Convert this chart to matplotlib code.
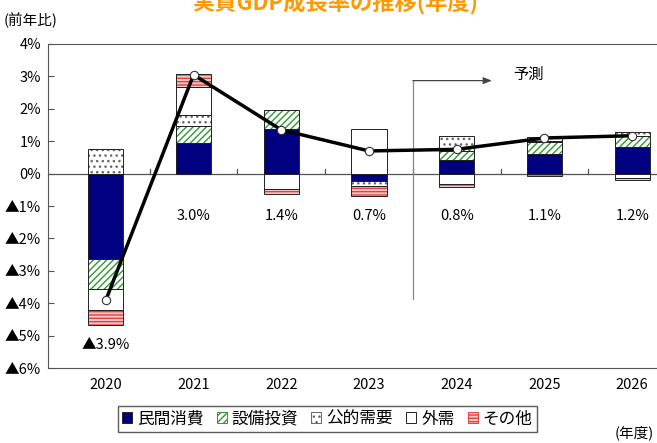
import matplotlib.pyplot as plt
import numpy as np
from matplotlib.patches import Patch

plt.rcParams['font.family'] = ['Noto Sans CJK JP', 'DejaVu Sans']
plt.rcParams['hatch.linewidth'] = 1.0

years = ['2020', '2021', '2022', '2023', '2024', '2025', '2026']
series = ['民間消費', '設備投資', '公的需要', '外需', 'その他']

# contributions (pct points)
private = [-2.62, 0.95, 1.38, -0.22, 0.42, 0.61, 0.83]
capex = [-0.93, 0.52, 0.59, 0.00, 0.29, 0.36, 0.34]
public = [0.77, 0.33, 0.00, -0.15, 0.46, 0.05, 0.12]
external = [-0.67, 0.86, -0.47, 1.38, -0.32, 0.12, -0.14]
other = [-0.46, 0.40, -0.15, -0.31, -0.10, -0.08, -0.05]

growth = [-3.9, 3.05, 1.35, 0.7, 0.75, 1.1, 1.17]
growth_labels = ['▲3.9%', '3.0%', '1.4%', '0.7%', '0.8%', '1.1%', '1.2%']

yticks = [4, 3, 2, 1, 0, -1, -2, -3, -4, -5, -6]

styles = {
    '民間消費': dict(face='#000080', hatch=None, hcol='#000080'),
    '設備投資': dict(face='white', hatch='/////', hcol='#2e9a2e'),
    '公的需要': dict(face='white', hatch='...', hcol='#666666'),
    '外需': dict(face='white', hatch=None, hcol='white'),
    'その他': dict(face='#f6c8c8', hatch='-----', hcol='#e04040'),
}

fig = plt.figure(figsize=(6.57, 4.43), dpi=100)
ax = fig.add_axes([0.073, 0.169, 0.96, 0.7317])

x = np.arange(len(years))
w = 0.4
pos = np.zeros(len(years))
neg = np.zeros(len(years))
for name, vals in zip(series, [private, capex, public, external, other]):
    vals = np.array(vals)
    base = np.where(vals >= 0, pos, neg)
    st = styles[name]
    ax.bar(x, vals, w, bottom=base, color=st['face'], hatch=st['hatch'],
           edgecolor=st['hcol'], linewidth=0, zorder=2)
    ax.bar(x, vals, w, bottom=base, fill=False, edgecolor='#222222',
           linewidth=0.7, zorder=3)
    pos = np.where(vals >= 0, pos + vals, pos)
    neg = np.where(vals < 0, neg + vals, neg)

ax.plot(x, growth, color='black', lw=2.5, zorder=4,
        marker='o', markersize=6, markerfacecolor='white',
        markeredgecolor='#333333', markeredgewidth=0.8)

for i, lab in enumerate(growth_labels):
    yy = -5.3 if i == 0 else -1.3
    ax.text(i, yy, lab, ha='center', va='center', fontsize=10.5)

# zero line with small tick marks between categories
ax.axhline(0, color='#555555', lw=0.9, zorder=1)
for b in x[:-1] + 0.5:
    ax.plot([b, b], [0, 0.15], color='#555555', lw=0.9, zorder=1)

# forecast marker
ax.plot([3.5, 3.5], [-3.86, 2.87], color='#888888', lw=0.9, zorder=1)
ax.annotate('', xy=(4.40, 2.87), xytext=(3.5, 2.87),
            arrowprops=dict(arrowstyle='-|>,head_length=0.5,head_width=0.2',
                            color='#444444', lw=0.9, shrinkA=0, shrinkB=0))
ax.text(4.82, 3.05, '予測', ha='center', va='center', fontsize=11)

ax.set_xlim(-0.66, 6.53)
ax.set_ylim(-6, 4)
ax.set_yticks(yticks)
ax.set_yticklabels([f'{v}%' if v >= 0 else f'▲{-v}%' for v in yticks],
                   fontsize=10.5)
ax.set_xticks(x)
ax.set_xticklabels(years, fontsize=10.5)
ax.tick_params(axis='y', direction='in', length=4, color='#555555', pad=5)
ax.tick_params(axis='x', length=0, pad=7)
ax.spines['right'].set_visible(False)
for s in ['left', 'top', 'bottom']:
    ax.spines[s].set_color('#555555')

fig.text(0.51, 0.995, '実質GDP成長率の推移(年度)', ha='center', va='center',
         fontsize=16, fontweight='bold', color='#FF9900')
fig.text(0.005, 0.955, '(前年比)', ha='left', va='center', fontsize=10.5)
fig.text(0.995, 0.022, '(年度)', ha='right', va='center', fontsize=10.5)

handles = []
for name in series:
    st = styles[name]
    handles.append(Patch(facecolor=st['face'], hatch=st['hatch'],
                         edgecolor=st['hcol'] if st['hatch'] else '#222222',
                         linewidth=0.7))
leg = fig.legend(handles, series, loc='center', bbox_to_anchor=(0.498, 0.054),
                 ncol=5, fontsize=12, handlelength=0.6, handleheight=0.6,
                 handletextpad=0.3, columnspacing=0.8, frameon=True,
                 fancybox=False, edgecolor='#333333', borderpad=0.25)

fig.savefig('out.png', dpi=100)
